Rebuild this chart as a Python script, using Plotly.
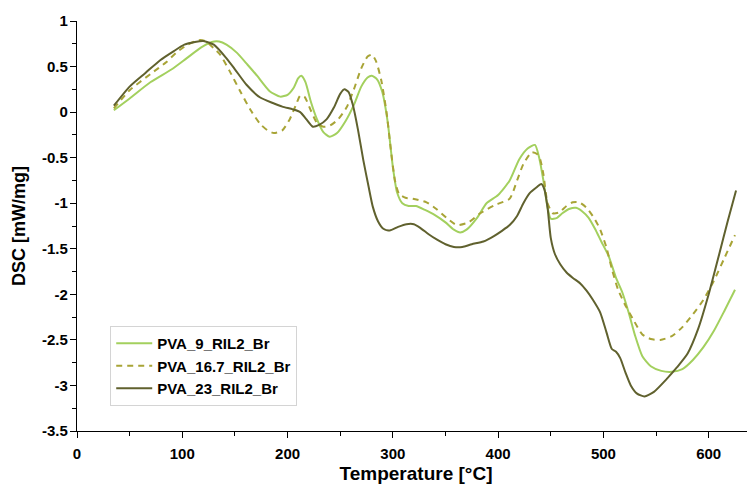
"""DSC curves of PVA/RIL2_Br films."""

import plotly.graph_objects as go

# PVA_9_RIL2_Br
t_9 = [35, 50, 70, 90, 104, 118, 128, 135, 142, 152, 162, 171, 183, 193, 200, 206, 210, 213,
       217, 222, 228, 234, 240, 247, 255, 263, 270, 276, 280, 285, 290, 295, 300, 304, 309,
       315, 322, 330, 340, 350, 358, 364, 370, 380, 389, 400, 411, 420, 428, 435, 439, 443,
       447, 450, 456, 461, 468, 474, 480, 486, 492, 498, 505, 512, 518, 524, 530, 537, 545,
       555, 565, 575, 585, 595, 605, 615, 625]
dsc_9 = [0.02, 0.15, 0.33, 0.47, 0.59, 0.71, 0.77, 0.775, 0.74, 0.65, 0.52, 0.40, 0.23, 0.17,
         0.19, 0.27, 0.37, 0.40, 0.33, 0.12, -0.08, -0.22, -0.27, -0.23, -0.10, 0.08, 0.28,
         0.38, 0.40, 0.36, 0.22, -0.10, -0.60, -0.88, -1.0, -1.03, -1.03, -1.07, -1.13, -1.21,
         -1.29, -1.32, -1.29, -1.16, -1.0, -0.91, -0.75, -0.52, -0.40, -0.36, -0.50, -0.75,
         -1.05, -1.17, -1.16, -1.11, -1.06, -1.05, -1.09, -1.16, -1.28, -1.42, -1.58, -1.82,
         -1.98, -2.2, -2.45, -2.68, -2.79, -2.84, -2.85, -2.82, -2.72, -2.58, -2.40, -2.18,
         -1.95]

# PVA_16.7_RIL2_Br
t_16 = [35, 50, 70, 85, 95, 105, 116, 122, 130, 136, 145, 155, 165, 174, 181, 187, 195, 202,
        208, 212, 216, 222, 228, 234, 240, 248, 256, 263, 270, 276, 280, 284, 289, 294, 298,
        302, 306, 312, 319, 332, 341, 352, 361, 372, 383, 397, 411, 418, 424, 432, 437, 440,
        443, 447, 452, 458, 465, 471, 477, 484, 491, 497, 503, 508, 514, 520, 528, 537, 545,
        554, 565, 575, 585, 595, 605, 615, 625]
dsc_16 = [0.04, 0.24, 0.42, 0.55, 0.66, 0.74, 0.79, 0.78, 0.70, 0.63, 0.45, 0.23, 0.02, -0.13,
          -0.20, -0.23, -0.20, -0.08, 0.08, 0.18, 0.17, 0.02, -0.12, -0.16, -0.15, -0.08, 0.05,
          0.25, 0.48, 0.61, 0.63, 0.56, 0.35, 0.0, -0.40, -0.75, -0.90, -0.94, -0.95, -0.99,
          -1.06, -1.17, -1.24, -1.21, -1.11, -1.02, -0.95, -0.75, -0.57, -0.44, -0.46, -0.52,
          -0.68, -1.0, -1.11, -1.10, -1.03, -0.99, -0.99, -1.05, -1.16, -1.29, -1.49, -1.72,
          -1.95, -2.10, -2.27, -2.44, -2.49, -2.50, -2.46, -2.36, -2.22, -2.06, -1.85, -1.60,
          -1.35]

# PVA_23_RIL2_Br
t_23 = [35, 50, 65, 79, 92, 102, 112, 120, 130, 142, 150, 161, 174, 186, 195, 205, 212, 218,
        224, 230, 237, 244, 250, 254, 258, 262, 267, 272, 277, 281, 286, 291, 297, 305, 313,
        320, 326, 334, 342, 350, 358, 366, 375, 386, 396, 404, 411, 418, 424, 430, 436, 441,
        444, 447, 450, 454, 459, 465, 471, 478, 484, 490, 497, 503, 508, 512, 516, 521, 526,
        532, 539, 548, 560, 570, 580, 590, 600, 610, 618, 626]
dsc_23 = [0.07, 0.28, 0.43, 0.57, 0.67, 0.74, 0.77, 0.78, 0.74, 0.59, 0.47, 0.30, 0.16, 0.10,
          0.06, 0.03, 0.0, -0.08, -0.16, -0.14, -0.08, 0.05, 0.20, 0.25, 0.22, 0.08, -0.20,
          -0.53, -0.82, -1.04, -1.20, -1.28, -1.30, -1.26, -1.23, -1.23, -1.27, -1.34, -1.40,
          -1.45, -1.48, -1.48, -1.45, -1.42, -1.36, -1.30, -1.24, -1.14, -1.0, -0.89, -0.83,
          -0.79, -0.85, -1.05, -1.38, -1.56, -1.67, -1.76, -1.82, -1.88, -1.96, -2.06, -2.20,
          -2.42, -2.60, -2.63, -2.70, -2.86, -3.0, -3.09, -3.12, -3.07, -2.93, -2.80, -2.65,
          -2.38, -2.0, -1.56, -1.20, -0.86]

y_ticks = [1, 0.5, 0, -0.5, -1, -1.5, -2, -2.5, -3, -3.5]
y_labels = ["1", "0.5", "0", "-0.5", "-1", "-1.5", "-2", "-2.5", "-3", "-3.5"]
x_ticks = [0, 100, 200, 300, 400, 500, 600]

FONT = "Liberation Sans, Arial, sans-serif"

fig = go.Figure()
series = [
    ("PVA_9_RIL2_Br", t_9, dsc_9, "#a3d05e", "solid"),
    ("PVA_16.7_RIL2_Br", t_16, dsc_16, "#a8a436", "dash"),
    ("PVA_23_RIL2_Br", t_23, dsc_23, "#60612e", "solid"),
]
for name, x, y, color, dash in series:
    fig.add_trace(go.Scatter(
        x=x, y=y, name=name, mode="lines",
        line=dict(color=color, width=2, dash=dash if dash == "solid" else "6px,5px",
                  shape="spline", smoothing=0.6),
    ))

axis_common = dict(
    showline=True, linecolor="black", linewidth=1.3, showgrid=False, zeroline=False,
    ticks="outside", ticklen=6, tickwidth=1.3, tickcolor="black", automargin=False,
    tickfont=dict(family=FONT, size=15, color="black", weight="bold"),
)
fig.update_xaxes(
    range=[0, 644], tickvals=x_ticks,
    minor=dict(ticks="outside", ticklen=4, tickwidth=1.3, tickcolor="black", dtick=50),
    title=dict(text="Temperature [°C]", standoff=5,
               font=dict(family=FONT, size=19, color="black", weight="bold")),
    ticklabelstandoff=3,
    **axis_common,
)
fig.update_yaxes(
    range=[-3.5, 1], tickvals=y_ticks, ticktext=y_labels,
    minor=dict(ticks="outside", ticklen=4, tickwidth=1.3, tickcolor="black",
               tickvals=[0.75, 0.25, -0.25, -0.75, -1.25, -1.75, -2.25, -2.75, -3.25]),
    title=dict(text="DSC [mW/mg]", standoff=11,
               font=dict(family=FONT, size=18, color="black", weight="bold")),
    ticklabelstandoff=-1,
    **axis_common,
)
# the page body adds 8px around the figure, so the figure is 8px smaller
fig.update_layout(
    width=747, height=476,
    margin=dict(l=69, r=0, t=13, b=53),
    plot_bgcolor="white", paper_bgcolor="white",
    legend=dict(
        x=0.049, y=0.256, xanchor="left", yanchor="top",
        bordercolor="#d4d4d4", borderwidth=1, bgcolor="white",
        font=dict(family=FONT, size=15, color="black", weight="bold"),
        itemwidth=36, tracegroupgap=0,
    ),
)

fig.write_html("out.html")
